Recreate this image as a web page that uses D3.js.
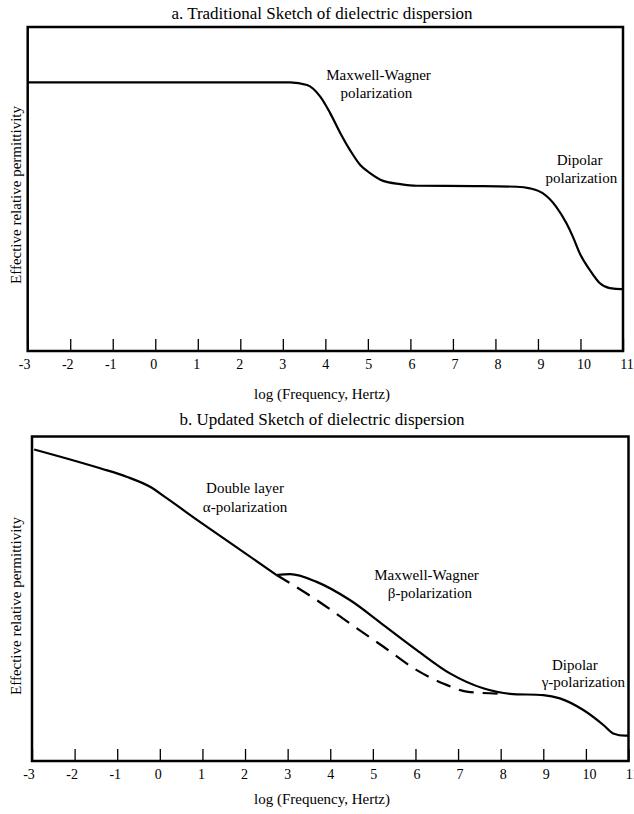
<!DOCTYPE html>
<html>
<head>
<meta charset="utf-8">
<script src="https://cdn.jsdelivr.net/npm/d3@7"></script>
<style>
  html, body { margin: 0; padding: 0; background: #fff; }
  svg { display: block; }
  text { font-family: "Liberation Serif", "DejaVu Serif", serif; fill: #000; }
</style>
</head>
<body>
<div id="chart"></div>
<script>
// ---------- DATA ----------
const xTicks = [-3, -2, -1, 0, 1, 2, 3, 4, 5, 6, 7, 8, 9, 10, 11];

// Panel a: traditional sketch
const aLogF = [-3, 3.17, 3.57, 3.88, 4.11, 4.35, 4.58, 4.82, 5.05, 5.36, 5.76, 6.15, 7.5, 8.5, 8.81, 9.11, 9.43, 9.67, 9.82, 9.98, 10.22, 10.45, 10.69, 10.97, 11];
const aEps  = [8.29, 8.29, 8.21, 7.85, 7.35, 6.73, 6.20, 5.74, 5.49, 5.25, 5.15, 5.10, 5.09, 5.07, 5.02, 4.87, 4.45, 3.94, 3.53, 3.02, 2.50, 2.10, 1.94, 1.91, 1.91];

// Panel b: double-layer alpha (solid)
const alphaLogF = [-2.95, -1.40, -0.78, -0.23, 0.16, 0.94, 1.72, 2.74];
const alphaEps  = [9.60, 9.02, 8.76, 8.45, 8.10, 7.37, 6.66, 5.73];

// Panel b: Maxwell-Wagner beta + dipolar gamma (solid)
const betaLogF = [2.74, 3.06, 3.68, 4.46, 5.25, 6.03, 6.81, 7.59, 8.22, 9.0, 9.39, 9.94, 10.41, 10.64, 10.92, 11];
const betaEps  = [5.73, 5.76, 5.52, 4.96, 4.19, 3.42, 2.70, 2.24, 2.07, 2.03, 1.93, 1.57, 1.11, 0.85, 0.78, 0.78];

// Panel b: alpha continuation without beta (dashed)
const dashLogF = [2.74, 3.68, 4.46, 5.25, 6.03, 6.65, 7.2, 8.06];
const dashEps  = [5.73, 4.96, 4.24, 3.52, 2.80, 2.39, 2.14, 2.07];

const titles = ["a. Traditional Sketch of dielectric dispersion", "b. Updated Sketch of dielectric dispersion"];
const xTitle = "log (Frequency, Hertz)";
const yTitle = "Effective relative permittivity";

const aLabels = [
  {t: "Maxwell-Wagner", x: 5.25, y: 8.52},
  {t: "polarization", x: 5.2, y: 7.95},
  {t: "Dipolar", x: 9.98, y: 5.9},
  {t: "polarization", x: 10.02, y: 5.33}
];
const bLabels = [
  {t: "Double layer", x: 2.0, y: 8.40},
  {t: "\u03b1-polarization", x: 2.0, y: 7.84},
  {t: "Maxwell-Wagner", x: 6.26, y: 5.73},
  {t: "\u03b2-polarization", x: 6.34, y: 5.17},
  {t: "Dipolar", x: 9.74, y: 2.96},
  {t: "\u03b3-polarization", x: 9.94, y: 2.44}
];

// ---------- DRAW ----------
const W = 634, H = 814;
const svg = d3.select("#chart").append("svg").attr("width", W).attr("height", H);

function panel(cfg) {
  const x = d3.scaleLinear().domain([-3, 11]).range([cfg.left, cfg.right]);
  const y = d3.scaleLinear().domain([0, 10]).range([cfg.bottom, cfg.top]);
  const g = svg.append("g");

  g.append("text").attr("x", 322).attr("y", cfg.titleY)
    .attr("text-anchor", "middle").attr("dominant-baseline", "central")
    .style("font-size", "17px").text(cfg.title);

  const ax = d3.axisBottom(x).tickValues(xTicks).tickSize(-12).tickPadding(8)
    .tickFormat(d => String(d));
  const axG = g.append("g").attr("transform", `translate(0,${cfg.bottom})`).call(ax);
  axG.select(".domain").remove();
  axG.selectAll(".tick line").attr("stroke", "#000").attr("stroke-width", 1.3);
  axG.selectAll(".tick text").style("font-size", "14px")
    .style("font-family", "'Liberation Serif', 'DejaVu Serif', serif").attr("fill", "#000")
    .attr("dx", d => (d - 4) * 0.5);

  g.append("rect").attr("x", cfg.left).attr("y", cfg.top)
    .attr("width", cfg.right - cfg.left).attr("height", cfg.bottom - cfg.top)
    .attr("fill", "none").attr("stroke", "#000").attr("stroke-width", 2.5);

  g.append("text").attr("x", 322).attr("y", cfg.xTitleY)
    .attr("text-anchor", "middle").attr("dominant-baseline", "central")
    .style("font-size", "15px").text(xTitle);

  g.append("text")
    .attr("transform", `translate(15.5,${cfg.yTitleY}) rotate(-90)`)
    .attr("text-anchor", "middle").attr("dominant-baseline", "central")
    .style("font-size", "15px").text(yTitle);

  const line = d3.line().x(d => x(d[0])).y(d => y(d[1])).curve(d3.curveMonotoneX);
  cfg.series.forEach(s => {
    g.append("path").datum(d3.zip(s.xs, s.ys)).attr("d", line)
      .attr("fill", "none").attr("stroke", "#000").attr("stroke-width", 2.2)
      .attr("stroke-linejoin", "round")
      .attr("stroke-dasharray", s.dash || null);
  });

  cfg.labels.forEach(l => {
    g.append("text").attr("x", x(l.x)).attr("y", y(l.y))
      .attr("text-anchor", "middle").attr("dominant-baseline", "central")
      .style("font-size", "15px").text(l.t);
  });
}

panel({
  left: 27.7, right: 623, top: 27, bottom: 351,
  titleY: 13, xTitleY: 394, yTitleY: 195, title: titles[0],
  series: [{xs: aLogF, ys: aEps}],
  labels: aLabels
});

panel({
  left: 32, right: 628.5, top: 436.5, bottom: 761,
  titleY: 419, xTitleY: 799, yTitleY: 606, title: titles[1],
  series: [
    {xs: alphaLogF, ys: alphaEps},
    {xs: betaLogF, ys: betaEps},
    {xs: dashLogF, ys: dashEps, dash: "15,9"}
  ],
  labels: bLabels
});
</script>
</body>
</html>
